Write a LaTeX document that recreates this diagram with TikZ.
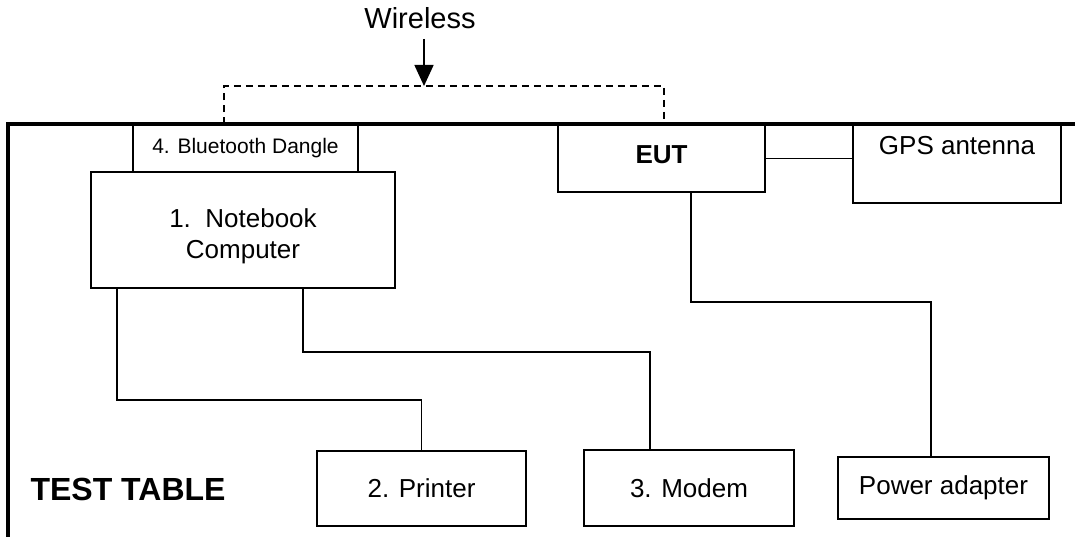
\documentclass[tikz,border=0pt]{standalone}
\usepackage{fontspec}
\setmainfont{Liberation Sans}
\usetikzlibrary{positioning, arrows.meta, calc}

\tikzset{
  device/.style={draw, line width=1.8pt, inner sep=0pt, align=center,
    font=\fontsize{26}{31}\selectfont},
  cable/.style={line width=1.3pt},
  tableline/.style={line width=4pt},
  radio/.style={line width=1.3pt, dash pattern=on 7pt off 5pt}
}

\begin{document}
\begin{tikzpicture}[x=1pt, y=-1pt]
    \useasboundingbox (0,0) rectangle (1075,537);

    % Test table
    \draw[tableline] (8,539) -- (8,124) -- (1077,124);
    \node[font=\fontsize{32}{36}\selectfont\bfseries] (tt) at (128,489) {TEST TABLE};

    % Notebook + dongle
    \node[device, minimum width=225pt, minimum height=47pt,
          font=\fontsize{21}{25}\selectfont] (bt) at (245.5,148.5) {4. Bluetooth Dangle};
    \node[device, minimum width=304pt, minimum height=116pt,
          label={[align=center, yshift=-6pt, font=\fontsize{26}{31}\selectfont]center:1.~~Notebook\\Computer}]
          (nb) at (243,230) {};

    % EUT + GPS
    \node[device, minimum width=207pt, minimum height=67pt,
          label={[yshift=4pt, font=\fontsize{26}{30}\selectfont\bfseries]center:EUT}]
          (eut) at (661.5,158.5) {};
    \node[device, minimum width=208pt, minimum height=78pt,
          label={[anchor=north, yshift=-9pt, font=\fontsize{26}{30}\selectfont]north:GPS antenna}]
          (gps) at (957,164) {};

    % Peripherals
    \node[device, minimum width=209pt, minimum height=75pt] (pr) at (421.5,488.5) {2. Printer};
    \node[device, minimum width=210pt, minimum height=76pt] (mo) at (689,488) {3. Modem};
    \node[device, minimum width=211pt, minimum height=62pt] (pa) at (943.5,488) {Power adapter};

    % Wireless link
    \node[font=\fontsize{29}{32}\selectfont] (wl) at (420,18) {Wireless};
    \coordinate (wa) at (424,39);
    \coordinate (dl) at (224,86);
    \coordinate (dr) at (664,86);
    \draw[line width=1.5pt, -{Triangle[length=21pt, width=19pt]}] (wa) -- (wa |- dl);
    \draw[radio] (bt.north -| dl) -- (dl) -- (dr) -- (eut.north -| dr);

    % Cables
    \draw[cable] (eut.east) -- (eut.east -| gps.west);
    \draw[cable] ([xshift=27pt]nb.south west) |- ([yshift=50pt]pr.north) -- (pr.north);
    \draw[cable] ([xshift=213pt]nb.south west) |- ([xshift=-39pt, yshift=97pt]mo.north) -- ([xshift=-39pt]mo.north);
    \draw[cable] ([xshift=29.5pt]eut.south) |- ([xshift=-12.5pt, yshift=154pt]pa.north) -- ([xshift=-12.5pt]pa.north);
\end{tikzpicture}
\end{document}
